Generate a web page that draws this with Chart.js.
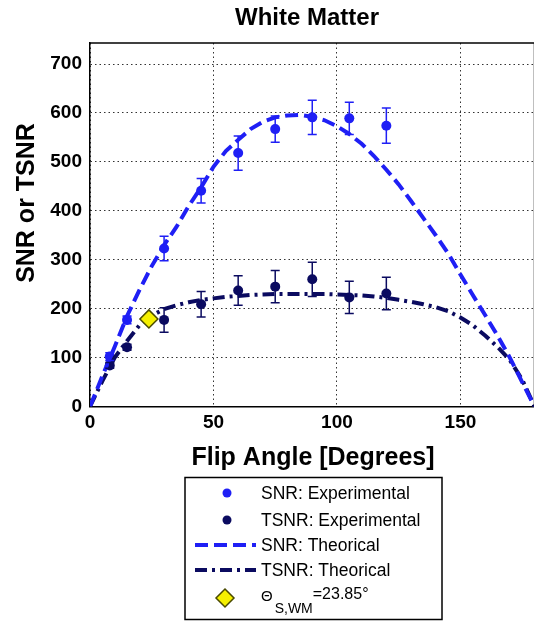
<!DOCTYPE html>
<html><head><meta charset="utf-8">
<script src="https://cdn.jsdelivr.net/npm/chart.js@4"></script>
<style>html,body{margin:0;padding:0;background:#fff;overflow:hidden}#wrap{width:545px;height:622px}</style>
</head><body><div id="wrap"><canvas id="c" width="545" height="622"></canvas></div>
<script>
// ---- data ----
const expAngles = [8, 15, 30, 45, 60, 75, 90, 105, 120];
const snrExp   = [102, 177, 323, 441, 518, 567, 591, 589, 574];
const snrErr   = [8, 8, 25, 25, 35, 27, 35, 33, 36];
const tsnrExp  = [84, 121, 177, 209, 237, 245, 260, 223, 231];
const tsnrErr  = [6, 6, 25, 26, 30, 33, 35, 33, 33];
const theoryAngles = [0,5,10,15,20,25,30,35,40,45,50,55,60,65,70,75,80,85,90,95,100,105,110,115,120,125,130,135,140,145,150,155,160,165,170,175,180];
const snrTheory  = [0,62,122,185,238,287,330,367,410,448,490,522,545,567,582,591,595,596,592,585,573,557,537,512,484,454,420,385,350,313,270,228,187,145,100,50,0];
const tsnrTheory = [0,52,100,134,166,186,199,207,213,218,221,224,226,228,229,230,230,230,230,230,229,228,227,225,222,218,214,209,203,195,182,166,145,122,95,55,0];
const ernstAngle = [23.85];
const ernstValue = [179];
const xTicks = [0, 50, 100, 150];
const yTicks = [0, 100, 200, 300, 400, 500, 600, 700];
const labels = ['SNR: Experimental','TSNR: Experimental','SNR: Theorical','TSNR: Theorical'];

const BLUE = '#1f1ff5', NAVY = '#0b0b60';
const FONT = '"Liberation Sans", Arial, Helvetica, sans-serif';
const pts = (xs, ys) => xs.map((x, i) => ({x, y: ys[i]}));

const errorBars = {
  id: 'errorBars',
  afterDatasetsDraw(chart) {
    const {ctx, scales: {x, y}} = chart;
    ctx.save();
    chart.data.datasets.forEach(ds => {
      if (!ds.errors) return;
      ctx.strokeStyle = ds.backgroundColor; ctx.lineWidth = 1.5;
      ds.data.forEach((p, i) => {
        const px = x.getPixelForValue(p.x);
        const t = y.getPixelForValue(p.y + ds.errors[i]);
        const b = y.getPixelForValue(p.y - ds.errors[i]);
        ctx.beginPath();
        ctx.moveTo(px, t); ctx.lineTo(px, b);
        ctx.moveTo(px - 4.5, t); ctx.lineTo(px + 4.5, t);
        ctx.moveTo(px - 4.5, b); ctx.lineTo(px + 4.5, b);
        ctx.stroke();
      });
    });
    ctx.restore();
  }
};

const decor = {
  id: 'decor',
  afterDraw(chart) {
    const {ctx, chartArea: a} = chart;
    const ds = chart.data.datasets;
    ctx.save();
    // top border of the axes box
    ctx.strokeStyle = '#000'; ctx.lineWidth = 1.5;
    ctx.beginPath(); ctx.moveTo(a.left, a.top); ctx.lineTo(a.right, a.top); ctx.stroke();
    ctx.beginPath(); ctx.moveTo(a.right, a.top); ctx.lineTo(a.right, a.bottom); ctx.stroke();
    ctx.fillStyle = '#000';
    ctx.textAlign = 'center'; ctx.textBaseline = 'middle';
    ctx.font = 'bold 24px ' + FONT;
    ctx.fillText('White Matter', 307, 18);
    ctx.font = 'bold 25px ' + FONT;
    ctx.fillText('Flip Angle [Degrees]', 313, 458);
    ctx.save();
    ctx.translate(27, 203); ctx.rotate(-Math.PI / 2);
    ctx.fillText('SNR or TSNR', 0, 0);
    ctx.restore();
    // legend box
    ctx.lineWidth = 1.5; ctx.strokeStyle = '#000';
    ctx.strokeRect(185, 477.5, 257, 142);
    ctx.textAlign = 'left';
    ctx.font = '17.5px ' + FONT;
    const rows = [493, 520, 545, 570];
    [0, 1].forEach(k => {
      ctx.fillStyle = ds[k].backgroundColor;
      ctx.beginPath(); ctx.arc(227, rows[k], 4.5, 0, Math.PI * 2); ctx.fill();
    });
    [2, 3].forEach(k => {
      ctx.strokeStyle = ds[k].borderColor; ctx.lineWidth = ds[k].borderWidth;
      ctx.setLineDash(ds[k].borderDash);
      ctx.beginPath(); ctx.moveTo(195, rows[k]); ctx.lineTo(256, rows[k]); ctx.stroke();
      ctx.setLineDash([]);
    });
    ctx.fillStyle = '#000';
    rows.forEach((yy, k) => ctx.fillText(labels[k], 261, yy + 1));
    // diamond
    ctx.fillStyle = ds[4].backgroundColor; ctx.strokeStyle = ds[4].borderColor; ctx.lineWidth = 1.5;
    ctx.beginPath(); ctx.moveTo(225, 589); ctx.lineTo(234, 598); ctx.lineTo(225, 607); ctx.lineTo(216, 598); ctx.closePath();
    ctx.fill(); ctx.stroke();
    ctx.fillStyle = '#000';
    ctx.textBaseline = 'alphabetic';
    ctx.font = '15px ' + FONT;
    ctx.fillText('\u0398', 261, 601);
    let w = ctx.measureText('\u0398').width;
    ctx.font = '14px ' + FONT;
    ctx.fillText('S,WM', 261 + w + 2, 613);
    w += 2 + ctx.measureText('S,WM').width;
    ctx.font = '16px ' + FONT;
    ctx.fillText('=' + ernstAngle[0].toFixed(2) + '\u00b0', 261 + w, 599);
    ctx.restore();
  }
};

new Chart(document.getElementById('c'), {
  type: 'scatter',
  data: { datasets: [
    { label: labels[0], data: pts(expAngles, snrExp), errors: snrErr, backgroundColor: BLUE, borderColor: BLUE, pointRadius: 5, pointBorderWidth: 0, order: 3 },
    { label: labels[1], data: pts(expAngles, tsnrExp), errors: tsnrErr, backgroundColor: NAVY, borderColor: NAVY, pointRadius: 5, pointBorderWidth: 0, order: 3 },
    { label: labels[2], data: pts(theoryAngles, snrTheory), showLine: true, borderColor: BLUE, backgroundColor: BLUE, borderWidth: 4, borderDash: [13, 6], pointRadius: 0, order: 2 },
    { label: labels[3], data: pts(theoryAngles, tsnrTheory), showLine: true, borderColor: NAVY, backgroundColor: NAVY, borderWidth: 4, borderDash: [12, 5, 3, 5], pointRadius: 0, order: 2 },
    { label: 'Ernst', data: pts(ernstAngle, ernstValue), pointStyle: 'rectRot', pointRadius: 9, backgroundColor: '#f5f000', borderColor: '#4a4a00', pointBorderWidth: 1.5, order: 1 }
  ]},
  options: {
    responsive: false, animation: false, devicePixelRatio: 1,
    layout: { padding: { left: 0, top: 43, right: 3, bottom: 175.5 } },
    plugins: { legend: { display: false }, tooltip: { enabled: false }, title: { display: false } },
    scales: {
      x: {
        type: 'linear', min: 0, max: 180,
        afterFit: s => { s.height = 40; },
        afterBuildTicks: s => { s.ticks = xTicks.map(v => ({value: v})); },
        ticks: { color: '#000', font: { family: FONT, size: 19, weight: 'bold' }, padding: 5 },
        grid: { color: '#333', lineWidth: 1, drawTicks: false },
        border: { color: '#000', width: 1.5, dash: [1.5, 3] }
      },
      y: {
        type: 'linear', min: 0, max: 743,
        afterFit: s => { s.width = 90; },
        afterBuildTicks: s => { s.ticks = yTicks.map(v => ({value: v})); },
        ticks: { color: '#000', font: { family: FONT, size: 19, weight: 'bold' }, padding: 8 },
        grid: { color: '#333', lineWidth: 1, drawTicks: false },
        border: { color: '#000', width: 1.5, dash: [1.5, 3] }
      }
    }
  },
  plugins: [errorBars, decor]
});
</script></body></html>
